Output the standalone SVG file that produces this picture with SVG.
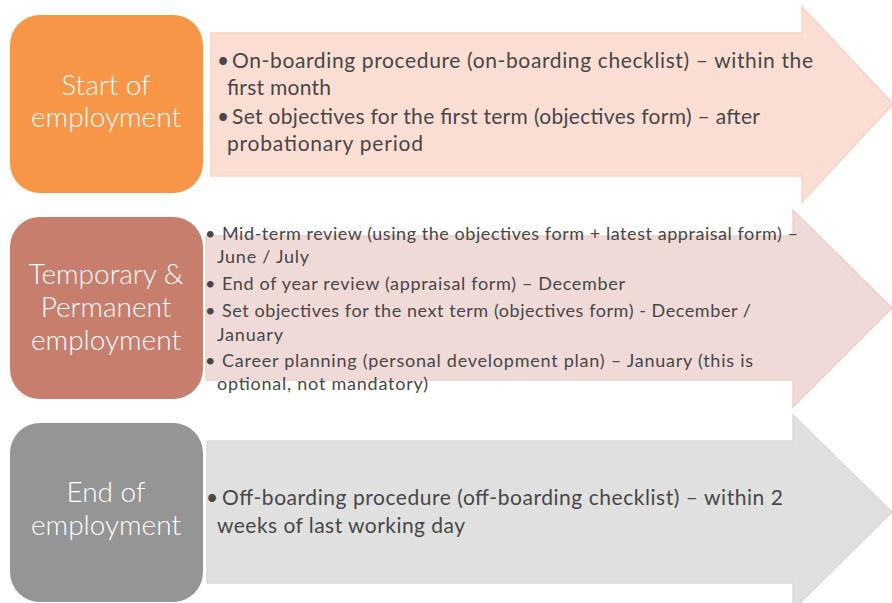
<svg xmlns="http://www.w3.org/2000/svg" width="892" height="603" viewBox="0 0 892 603">
<style>
.lbl{font-family:Lato,"Open Sans","Liberation Sans",sans-serif;font-weight:300;fill:#ffffff;font-size:28px;text-anchor:middle}
.txt{font-family:Lato,"Open Sans","Liberation Sans",sans-serif;font-weight:400;fill:#474747}
.t1{font-size:21px}
.t2{font-size:18px}
</style>
<rect width="892" height="603" fill="#ffffff"/>
<g id="arrows">
<path id="arrow1" d="M211,33 H802 V7 L893,104 L802,202 V176 H211 Z" fill="#FBDED3" stroke="#F8D3C5" stroke-width="1.5"/>
<path id="arrow2" d="M206,236 H793 V210 L892,308 L793,407 V380 H206 Z" fill="#EFDAD7" stroke="#EBD2CD" stroke-width="1.5"/>
<path id="arrow3" d="M207,441 H793 V415 L892,512 L793,610 V583 H207 Z" fill="#E0E0E0" stroke="#DADADA" stroke-width="1.5"/>
</g>
<g id="node1">
<rect x="10" y="15" width="193" height="178" rx="30" fill="#F79646"/>
<text class="lbl" x="106" y="95">Start of</text>
<text class="lbl" x="106" y="127">employment</text>
</g>
<g id="node2">
<rect x="10" y="217" width="193" height="182" rx="30" fill="#C77E6C"/>
<text class="lbl" x="106" y="284">Temporary &amp;</text>
<text class="lbl" x="106" y="317">Permanent</text>
<text class="lbl" x="106" y="350">employment</text>
</g>
<g id="node3">
<rect x="10" y="423" width="193" height="179" rx="30" fill="#959595"/>
<text class="lbl" x="106" y="502">End of</text>
<text class="lbl" x="106" y="535">employment</text>
</g>
<g id="text1" class="txt t1">
<text x="217" y="68">•</text>
<text x="232" y="68" textLength="581" lengthAdjust="spacing">On-boarding procedure (on-boarding checklist) – within the</text>
<text x="227" y="95" textLength="104" lengthAdjust="spacing">first month</text>
<text x="217" y="124">•</text>
<text x="232" y="124" textLength="528" lengthAdjust="spacing">Set objectives for the first term (objectives form) – after</text>
<text x="227" y="151" textLength="196" lengthAdjust="spacing">probationary period</text>
</g>
<g id="text2" class="txt t2">
<text x="205" y="240">•</text>
<text x="222" y="240" textLength="576" lengthAdjust="spacing">Mid-term review (using the objectives form + latest appraisal form) –</text>
<text x="217" y="263" textLength="92" lengthAdjust="spacing">June / July</text>
<text x="205" y="290">•</text>
<text x="222" y="290" textLength="403" lengthAdjust="spacing">End of year review (appraisal form) – December</text>
<text x="205" y="317">•</text>
<text x="222" y="317" textLength="529" lengthAdjust="spacing">Set objectives for the next term (objectives form) - December /</text>
<text x="217" y="341" textLength="66" lengthAdjust="spacing">January</text>
<text x="205" y="367">•</text>
<text x="222" y="367" textLength="531" lengthAdjust="spacing">Career planning (personal development plan) – January (this is</text>
<text x="217" y="390" textLength="211" lengthAdjust="spacing">optional, not mandatory)</text>
</g>
<g id="text3" class="txt t1">
<text x="206" y="505">•</text>
<text x="222" y="505" textLength="561" lengthAdjust="spacing">Off-boarding procedure (off-boarding checklist) – within 2</text>
<text x="217" y="533" textLength="248" lengthAdjust="spacing">weeks of last working day</text>
</g>
</svg>
